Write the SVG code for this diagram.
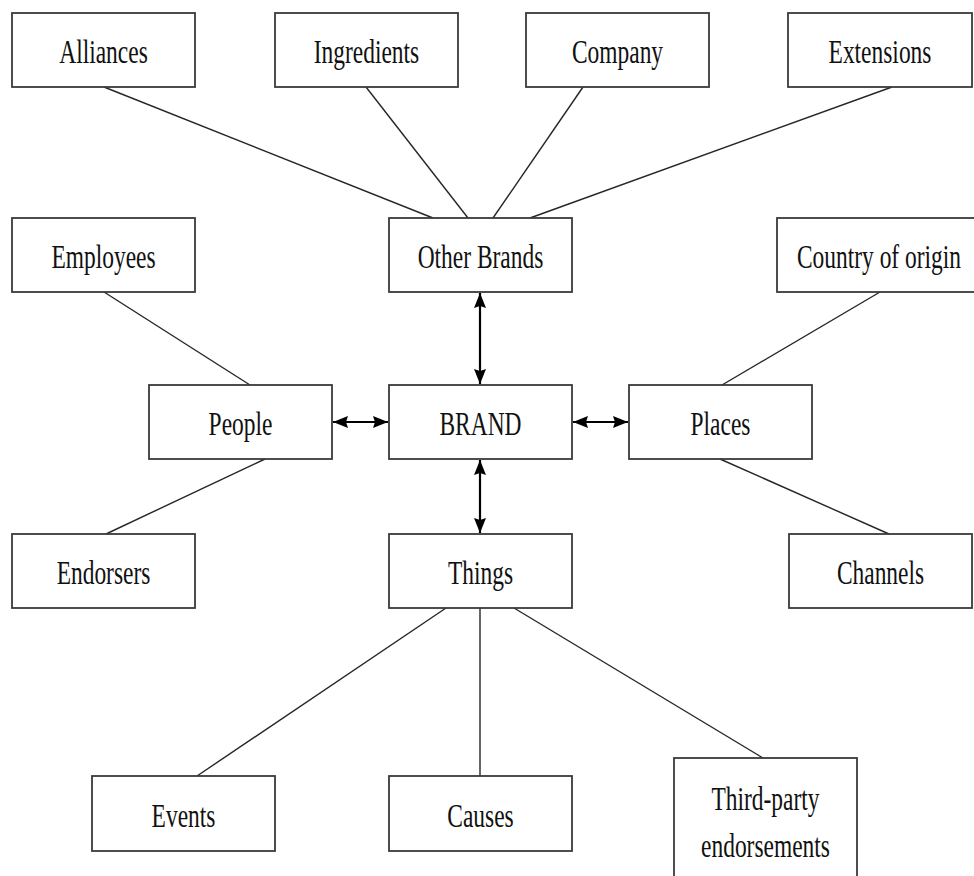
<svg xmlns="http://www.w3.org/2000/svg" width="974" height="876" viewBox="0 0 974 876">
  <defs>
    <style>
      .box rect { fill: #ffffff; stroke: #3a3a3a; stroke-width: 1.8; }
      .box text { font-family: "Liberation Serif", "Times New Roman", serif; font-size: 34px; fill: #111; text-anchor: middle; }
      .link { stroke: #262626; stroke-width: 1.4; fill: none; }
      .dbl { stroke: #000; stroke-width: 2.2; fill: none; marker-start: url(#head); marker-end: url(#head); }
    </style>
    <marker id="head" viewBox="0 0 15 12" refX="15" refY="6" markerWidth="15" markerHeight="12" markerUnits="userSpaceOnUse" orient="auto-start-reverse">
      <path d="M0,0 L15,6 L0,12 L2,6 z" fill="#000"/>
    </marker>
  </defs>
  <rect width="974" height="876" fill="#ffffff"/>

  <!-- connectors -->
  <g id="connectors">
    <line class="link" x1="104" y1="87" x2="433" y2="218"/>
    <line class="link" x1="366" y1="87" x2="468" y2="218"/>
    <line class="link" x1="583" y1="87" x2="493" y2="218"/>
    <line class="link" x1="892" y1="87" x2="530" y2="218"/>
    <line class="link" x1="104" y1="292" x2="250" y2="385"/>
    <line class="link" x1="880" y1="292" x2="722" y2="385"/>
    <line class="link" x1="265" y1="459" x2="106" y2="534"/>
    <line class="link" x1="720" y1="459" x2="889" y2="534"/>
    <line class="link" x1="446" y1="608" x2="197" y2="776"/>
    <line class="link" x1="480" y1="608" x2="480" y2="776"/>
    <line class="link" x1="514" y1="608" x2="763" y2="758"/>
    <line class="dbl" x1="480" y1="293" x2="480" y2="384"/>
    <line class="dbl" x1="480" y1="460" x2="480" y2="533"/>
    <line class="dbl" x1="333" y1="422" x2="388" y2="422"/>
    <line class="dbl" x1="573" y1="422" x2="628" y2="422"/>
  </g>

  <!-- nodes -->
  <g id="alliances" class="box">
    <rect x="12" y="13" width="183" height="74"/>
    <text transform="translate(103.5,63) scale(0.69,1)">Alliances</text>
  </g>
  <g id="ingredients" class="box">
    <rect x="275" y="13" width="183" height="74"/>
    <text transform="translate(366.5,63) scale(0.69,1)">Ingredients</text>
  </g>
  <g id="company" class="box">
    <rect x="526" y="13" width="183" height="74"/>
    <text transform="translate(617.5,63) scale(0.69,1)">Company</text>
  </g>
  <g id="extensions" class="box">
    <rect x="788" y="13" width="184" height="74"/>
    <text transform="translate(880,63) scale(0.69,1)">Extensions</text>
  </g>
  <g id="employees" class="box">
    <rect x="12" y="218" width="183" height="74"/>
    <text transform="translate(103.5,268) scale(0.69,1)">Employees</text>
  </g>
  <g id="other-brands" class="box">
    <rect x="389" y="218" width="183" height="74"/>
    <text transform="translate(480.5,268) scale(0.69,1)">Other Brands</text>
  </g>
  <g id="country-of-origin" class="box">
    <rect x="777" y="218" width="206" height="74"/>
    <text transform="translate(879,268) scale(0.69,1)">Country of origin</text>
  </g>
  <g id="people" class="box">
    <rect x="149" y="385" width="183" height="74"/>
    <text transform="translate(240.5,435) scale(0.69,1)">People</text>
  </g>
  <g id="brand" class="box">
    <rect x="389" y="385" width="183" height="74"/>
    <text transform="translate(480.5,435) scale(0.69,1)">BRAND</text>
  </g>
  <g id="places" class="box">
    <rect x="629" y="385" width="183" height="74"/>
    <text transform="translate(720.5,435) scale(0.69,1)">Places</text>
  </g>
  <g id="endorsers" class="box">
    <rect x="12" y="534" width="183" height="74"/>
    <text transform="translate(103.5,584) scale(0.69,1)">Endorsers</text>
  </g>
  <g id="things" class="box">
    <rect x="389" y="534" width="183" height="74"/>
    <text transform="translate(480.5,584) scale(0.69,1)">Things</text>
  </g>
  <g id="channels" class="box">
    <rect x="789" y="534" width="183" height="74"/>
    <text transform="translate(880.5,584) scale(0.69,1)">Channels</text>
  </g>
  <g id="events" class="box">
    <rect x="92" y="776" width="183" height="75"/>
    <text transform="translate(183.5,827) scale(0.69,1)">Events</text>
  </g>
  <g id="causes" class="box">
    <rect x="389" y="776" width="183" height="75"/>
    <text transform="translate(480.5,827) scale(0.69,1)">Causes</text>
  </g>
  <g id="third-party" class="box">
    <rect x="674" y="758" width="183" height="130"/>
    <text transform="translate(765.5,810) scale(0.69,1)">Third-party</text>
    <text transform="translate(765.5,857) scale(0.69,1)">endorsements</text>
  </g>
</svg>
